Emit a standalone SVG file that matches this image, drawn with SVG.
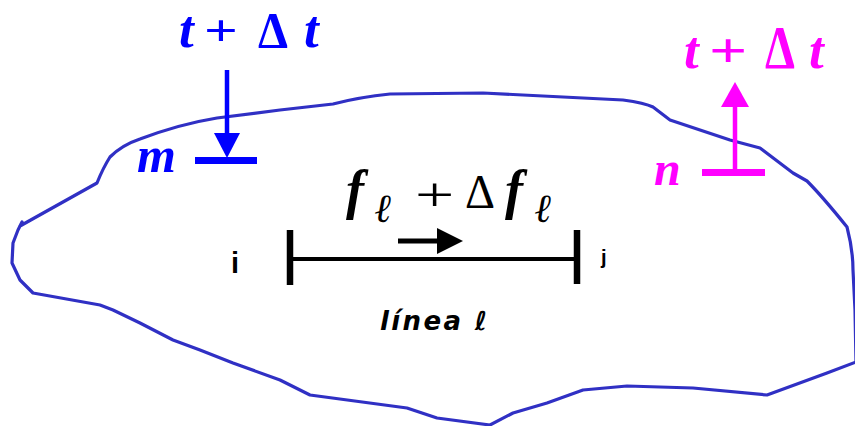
<svg xmlns="http://www.w3.org/2000/svg" width="855" height="426" viewBox="0 0 855 426">
<style>
.outline{fill:none;stroke:#3030c4;stroke-width:3.2;stroke-linejoin:round;stroke-linecap:round}
.blue{fill:#0000ff}
.mag{fill:#ff00ff}
.blk{fill:#000}
.it{font-family:"Liberation Serif","Times New Roman",serif;font-style:italic;font-weight:bold}
.up{font-family:"Liberation Serif","Times New Roman",serif;font-style:normal;font-weight:bold}
.upn{font-family:"Liberation Serif","Times New Roman",serif;font-style:normal;font-weight:normal}
.sans{font-family:"Liberation Sans",Arial,sans-serif;font-weight:bold}
.script{font-family:"DejaVu Sans",sans-serif;font-style:oblique;font-weight:bold}
</style>
<rect width="855" height="426" fill="#fff"/>
<g id="region">
<path class="outline" d="M20,226 L97,183 Q103,168 110,157 Q122,145 140,139 Q180,124 217,118 L280,110 L333,104 Q360,97 390,94 L483,93 L583,98 L623,100 Q645,103 653,107 L670,120 L730,140 L760,148 L793,173 L807,181 Q822,196 847,227 Q853,250 853,270 L855,310 L856,362 L827,373 L767,395 L693,388 L627,386 L583,390 L547,403 L513,413 L490,425 L437,418 L407,408 L310,395 L280,380 L233,363 L200,350 L173,340 L140,323 L113,310 L100,305 L33,293 L20,280 L12,263 L13,243 L18,230 L22,222"/>
</g>
<g id="node-m">
<text class="it blue" font-size="50" x="137" y="172">m</text>
<rect class="blue" x="195" y="157" width="62" height="7"/>
<text class="it blue" font-size="53" x="179" y="47">t</text>
<text class="up blue" font-size="44" transform="translate(204,45) scale(1.35,1)">+</text>
<text class="up blue" font-size="50" x="258" y="47" textLength="30" lengthAdjust="spacingAndGlyphs">Δ</text>
<text class="it blue" font-size="53" x="304" y="47">t</text>
</g>
<g id="node-n">
<text class="it mag" font-size="48" x="654" y="185">n</text>
<rect class="mag" x="702" y="169" width="63" height="7"/>
<text class="it mag" font-size="53" x="684" y="68">t</text>
<text class="up mag" font-size="48" transform="translate(709,67) scale(1.4,1)">+</text>
<text class="up mag" font-size="62" x="765" y="68" textLength="30" lengthAdjust="spacingAndGlyphs">Δ</text>
<text class="it mag" font-size="53" x="809" y="68">t</text>
</g>
<g id="line-l">
<line x1="290" y1="259" x2="577" y2="259" stroke="#000" stroke-width="4"/>
<line x1="290" y1="230" x2="290" y2="285" stroke="#000" stroke-width="6.5"/>
<line x1="577" y1="230" x2="577" y2="284" stroke="#000" stroke-width="6.5"/>
<text class="sans blk" font-size="29" x="231" y="273">i</text>
<text class="sans blk" font-size="20" x="601" y="264">j</text>
<text class="it blk" font-size="54" x="346" y="208">f</text>
<text class="it blk" font-size="40" x="375" y="222">ℓ</text>
<text class="upn blk" font-size="48" transform="translate(415,211) scale(1.45,1)">+</text>
<text class="upn blk" font-size="48" x="465" y="208" textLength="30" lengthAdjust="spacingAndGlyphs">Δ</text>
<text class="it blk" font-size="54" x="505" y="208">f</text>
<text class="it blk" font-size="40" x="535" y="222">ℓ</text>
<text class="script blk" font-size="26" x="380" y="330" textLength="107" lengthAdjust="spacing">línea ℓ</text>
</g>
<g id="connectors">
<line x1="227" y1="70" x2="227" y2="136" stroke="#0000ff" stroke-width="4.5"/>
<polygon class="blue" points="214,133 240,133 227,158"/>
<line x1="735" y1="104" x2="735" y2="172" stroke="#ff00ff" stroke-width="4.5"/>
<polygon class="mag" points="721,107 749,107 735,82"/>
<line x1="398" y1="241" x2="440" y2="241" stroke="#000" stroke-width="5"/>
<polygon class="blk" points="437,228 437,254 463,241"/>
</g>
</svg>
